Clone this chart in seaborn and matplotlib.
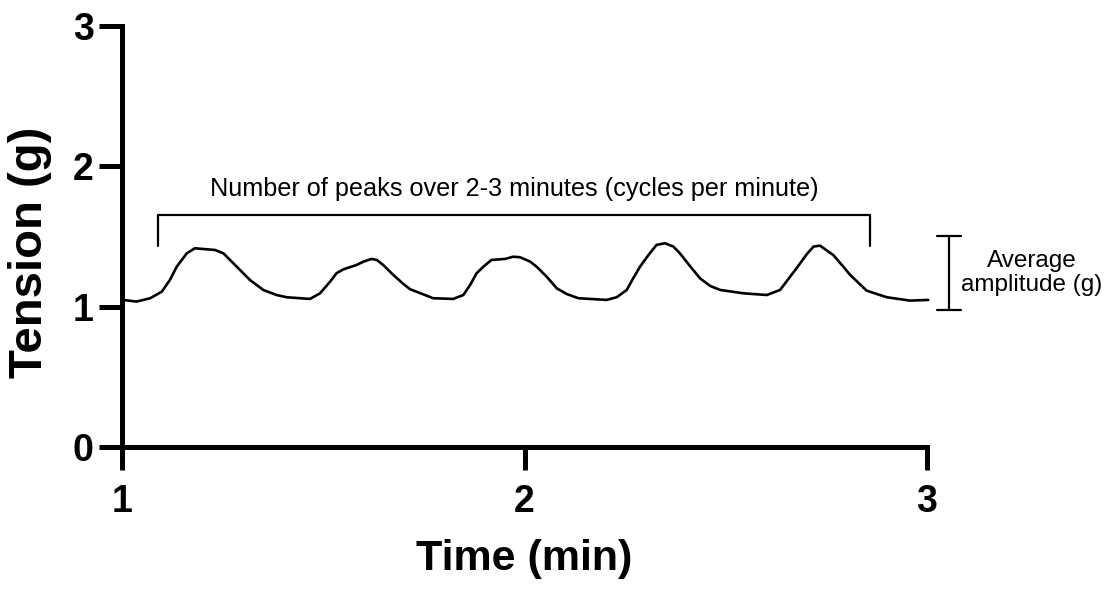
import matplotlib
matplotlib.use("Agg")
import matplotlib.pyplot as plt
import seaborn as sns
import pandas as pd

# Data
time_min = [1.003, 1.036, 1.070, 1.099, 1.119, 1.136, 1.161, 1.181, 1.210, 1.231,
            1.252, 1.285, 1.318, 1.351, 1.384, 1.409, 1.467, 1.492, 1.517, 1.533,
            1.550, 1.583, 1.600, 1.620, 1.633, 1.649, 1.674, 1.699, 1.716, 1.773,
            1.823, 1.848, 1.865, 1.881, 1.898, 1.918, 1.952, 1.972, 1.989, 2.014,
            2.030, 2.055, 2.080, 2.105, 2.134, 2.204, 2.229, 2.254, 2.270, 2.287,
            2.308, 2.328, 2.349, 2.370, 2.386, 2.411, 2.436, 2.461, 2.486, 2.544,
            2.602, 2.635, 2.655, 2.676, 2.701, 2.718, 2.734, 2.767, 2.792, 2.809,
            2.850, 2.900, 2.958, 3.003]
tension_g = [1.048, 1.036, 1.060, 1.107, 1.190, 1.285, 1.380, 1.416, 1.409, 1.404,
             1.380, 1.285, 1.190, 1.119, 1.083, 1.067, 1.055, 1.095, 1.178, 1.238,
             1.266, 1.297, 1.321, 1.340, 1.333, 1.297, 1.226, 1.162, 1.124, 1.060,
             1.055, 1.083, 1.155, 1.238, 1.285, 1.333, 1.340, 1.356, 1.352, 1.321,
             1.285, 1.214, 1.131, 1.090, 1.060, 1.048, 1.067, 1.119, 1.202, 1.285,
             1.368, 1.440, 1.452, 1.428, 1.380, 1.290, 1.202, 1.148, 1.119, 1.095,
             1.083, 1.119, 1.195, 1.274, 1.373, 1.428, 1.435, 1.368, 1.285, 1.226,
             1.114, 1.067, 1.043, 1.048]

x_ticks = [1, 2, 3]
y_ticks = [0, 1, 2, 3]

peaks_label = "Number of peaks over 2-3 minutes (cycles per minute)"
amp_label = "Average\namplitude (g)"

sns.set_theme(style="ticks")
plt.rcParams['font.family'] = ['Liberation Sans', 'DejaVu Sans']
plt.rcParams['text.color'] = 'black'
plt.rcParams['axes.labelcolor'] = 'black'
plt.rcParams['xtick.color'] = 'black'
plt.rcParams['ytick.color'] = 'black'

df = pd.DataFrame({"Time (min)": time_min, "Tension (g)": tension_g})

fig = plt.figure(figsize=(11.13, 5.91), dpi=100)
ax = fig.add_axes([0.1096, 0.2437, 0.7233, 0.7123])

sns.lineplot(data=df, x="Time (min)", y="Tension (g)", ax=ax, color="black",
             linewidth=1.9, clip_on=False, solid_joinstyle="round")

ax.set_xlim(1, 3)
ax.set_ylim(0, 3)
ax.set_xticks(x_ticks)
ax.set_yticks(y_ticks)
ax.set_xticklabels([str(t) for t in x_ticks])
ax.set_yticklabels([str(t) for t in y_ticks])

for s in ["top", "right"]:
    ax.spines[s].set_visible(False)
for s in ["left", "bottom"]:
    ax.spines[s].set_linewidth(3.6)
    ax.spines[s].set_color("black")
    ax.spines[s].set_capstyle("projecting")

ax.tick_params(axis="both", length=16.5, width=3.6, color="black",
               labelcolor="black", labelsize=27, direction="out")
ax.tick_params(axis="x", pad=10)
ax.tick_params(axis="y", pad=4)
for lab in ax.get_xticklabels() + ax.get_yticklabels():
    lab.set_fontweight("bold")

ax.set_xlabel("Time (min)", fontsize=31, fontweight="bold", labelpad=14,
              color="black")
ax.set_ylabel("Tension (g)", fontsize=34, fontweight="bold", color="black")
ax.yaxis.set_label_coords(-0.087, 0.463)

# Peaks bracket
bx0, bx1, btop, bbot = 1.089, 2.858, 1.654, 1.433
ax.plot([bx0, bx0, bx1, bx1], [bbot, btop, btop, bbot], color="black",
        linewidth=1.6, clip_on=False)
ax.text((bx0 + bx1) / 2, 1.75, peaks_label, ha="center", va="bottom",
        fontsize=18.2, color="black")

# Amplitude bar
ax_x, cap = 3.055, 0.03
ax.plot([ax_x, ax_x], [0.976, 1.504], color="black", linewidth=1.6, clip_on=False)
ax.plot([ax_x - cap, ax_x + cap], [1.504, 1.504], color="black", linewidth=1.6, clip_on=False)
ax.plot([ax_x - cap, ax_x + cap], [0.976, 0.976], color="black", linewidth=1.6, clip_on=False)
ax.text(3.261, 1.24, amp_label, ha="center", va="center", fontsize=17.5,
        linespacing=1.15, clip_on=False, color="black")

fig.savefig("out.png", dpi=100)
